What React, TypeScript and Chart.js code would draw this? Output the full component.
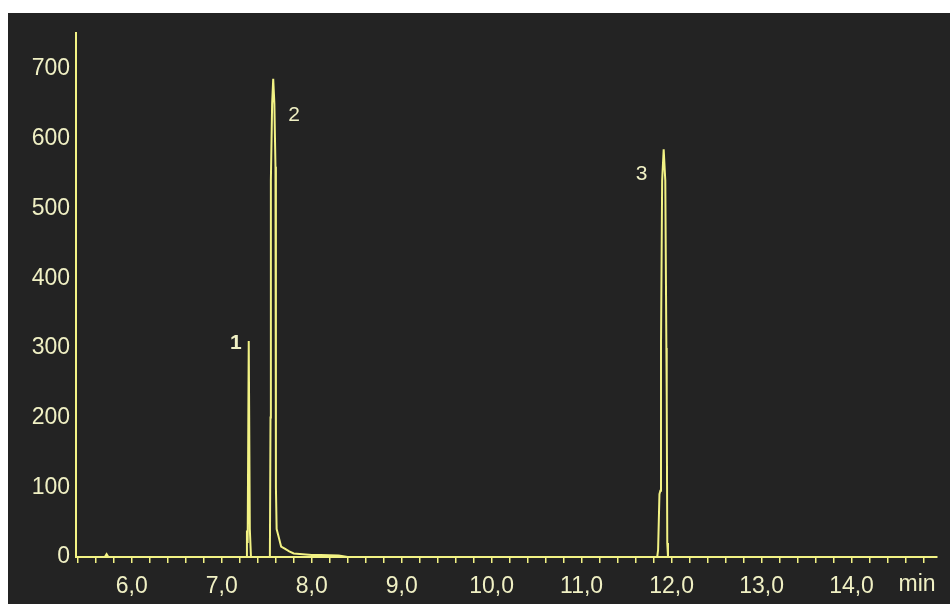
import React, { useEffect, useRef } from "react";
import { Chart, registerables } from "chart.js";

Chart.register(...registerables);

// Retention time (min) and detector signal
const times = [
  5.38, 5.7, 5.72, 5.74, 7.2, 7.27, 7.28, 7.288, 7.3, 7.312, 7.325,
  7.535, 7.542, 7.546, 7.56, 7.572, 7.585, 7.597, 7.602, 7.61, 7.63, 7.66, 7.7, 7.75, 7.8, 7.9, 8.0, 8.1, 8.3, 8.4,
  11.84, 11.85, 11.865, 11.875, 11.882, 11.895, 11.912, 11.93, 11.942, 11.946, 11.952, 11.96, 14.95,
];
const signal = [
  0, 0, 4, 0, 0, 0, 38, 20, 310, 40, 0,
  0, 200, 540, 650, 686, 650, 560, 100, 40, 30, 15, 12, 8, 5, 4, 3, 3, 2, 0,
  0, 10, 90, 95, 300, 540, 585, 540, 300, 225, 20, 0, 0,
];

const peakLabels = ["1", "2", "3"];
const peakTimes = [7.3, 7.572, 11.912];
const peakHeights = [310, 686, 585];

const yTickValues = [0, 100, 200, 300, 400, 500, 600, 700];
const xUnit = "min";

const LINE = "#f2f284";
const TEXT = "#f0f0c4";
const BG = "#232323";
const FONT = "'Liberation Sans', Arial, sans-serif";

const labelOffsets = [
  [-13, 2],
  [21, 36],
  [-22, 25],
];

const annotatePlugin = {
  id: "annotate",
  afterDraw(chart: any) {
    const { ctx, scales, chartArea } = chart;
    const xs = scales.x;
    const ys = scales.y;
    ctx.save();
    ctx.fillStyle = TEXT;
    ctx.textAlign = "center";
    ctx.textBaseline = "middle";
    peakLabels.forEach((lab, i) => {
      ctx.font = `${i === 0 ? "bold " : ""}21px ${FONT}`;
      const px = xs.getPixelForValue(peakTimes[i]) + labelOffsets[i][0];
      const py = ys.getPixelForValue(peakHeights[i]) + labelOffsets[i][1];
      ctx.fillText(lab, px, py);
    });
    ctx.font = `23px ${FONT}`;
    ctx.textBaseline = "top";
    ctx.fillText(xUnit, chartArea.right - 20, chartArea.bottom + 16);
    ctx.restore();
  },
};

export default function App() {
  const ref = useRef<HTMLCanvasElement | null>(null);

  useEffect(() => {
    if (!ref.current) return;
    const data = times.map((t, i) => ({ x: t, y: signal[i] }));
    const chart = new Chart(ref.current, {
      type: "line",
      data: {
        datasets: [
          {
            data,
            borderColor: LINE,
            borderWidth: 2,
            pointRadius: 0,
            tension: 0,
            fill: false,
          },
        ],
      },
      options: {
        animation: false,
        responsive: false,
        maintainAspectRatio: false,
        layout: { padding: { top: 14, right: 13, left: 0, bottom: 0 } },
        plugins: { legend: { display: false }, tooltip: { enabled: false } },
        scales: {
          x: {
            type: "linear",
            min: 5.38,
            max: 14.95,
            afterFit: (s: any) => {
              s.height = 47;
            },
            border: { display: true, color: LINE, width: 2 },
            grid: {
              display: true,
              drawOnChartArea: false,
              drawTicks: true,
              tickLength: 6,
              color: LINE,
              lineWidth: 1.5,
            },
            ticks: {
              stepSize: 0.2,
              includeBounds: false,
              autoSkip: false,
              maxRotation: 0,
              padding: 10,
              color: TEXT,
              font: { family: FONT, size: 23 },
              callback: (v: any) => {
                const n = Number(v);
                return Math.abs(n - Math.round(n)) < 1e-6 && n >= 6 && n <= 14
                  ? n.toFixed(1).replace(".", ",")
                  : "";
              },
            },
          },
          y: {
            type: "linear",
            min: 0,
            max: 752,
            afterFit: (s: any) => {
              s.width = 68;
            },
            afterBuildTicks: (s: any) => {
              s.ticks = yTickValues.map((v) => ({ value: v }));
            },
            border: { display: true, color: LINE, width: 2 },
            grid: { display: true, drawOnChartArea: false, drawTicks: false },
            ticks: {
              padding: 6,
              color: TEXT,
              font: { family: FONT, size: 23 },
            },
          },
        },
      },
      plugins: [annotatePlugin],
    });
    return () => chart.destroy();
  }, []);

  return (
    <div
      style={{
        position: "fixed",
        left: 8,
        top: 13,
        width: 942,
        height: 591,
        background: BG,
      }}
    >
      <canvas ref={ref} width={942} height={591} style={{ display: "block" }} />
    </div>
  );
}
